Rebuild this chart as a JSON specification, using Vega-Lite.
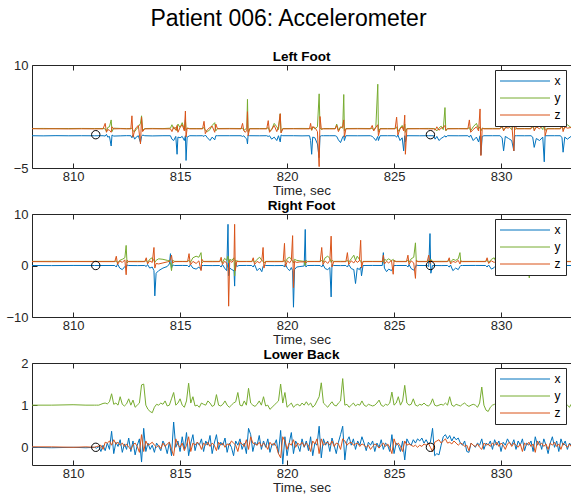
{
  "$schema": "https://vega.github.io/schema/vega-lite/v6.json",
  "padding": {"left": 5, "top": 7, "right": 0, "bottom": 0},
  "title": {"text": "Patient 006: Accelerometer", "fontSize": 23, "fontWeight": "normal", "color": "#000000", "anchor": "middle", "offset": 19},
  "bounds": "flush",
  "spacing": 46,
  "resolve": {"scale": {"color": "independent", "y": "independent"}, "legend": {"color": "independent"}},
  "config": {
    "font": "Liberation Sans",
    "view": {"stroke": null},
    "axis": {"domainColor": "#262626", "tickColor": "#262626", "labelColor": "#262626", "titleColor": "#262626", "labelFontSize": 13, "titleFontSize": 13.5, "titleFontWeight": "normal", "grid": false, "tickSize": -5, "domainWidth": 1, "tickWidth": 1, "titlePadding": 0},
    "axisX": {"labelPadding": 7},
    "axisY": {"labelPadding": 9},
    "title": {"fontSize": 13.5, "fontWeight": "bold", "color": "#000000", "offset": -4},
    "legend": {"orient": "top-right", "offset": 5, "fillColor": "#ffffff", "strokeColor": "#262626", "strokeWidth": 1, "padding": 5, "symbolType": "M-5,0H5", "symbolSize": 100, "symbolStrokeWidth": 1, "symbolOffset": 19, "labelOffset": 23.5, "labelFontSize": 12, "labelColor": "#000000", "rowPadding": 5, "title": null}
  },
  "datasets": {
    "left": [
      {"t": 808.08, "x": -0.30, "y": 0.75, "z": 0.72},
      {"t": 808.6, "x": -0.32, "y": 0.76, "z": 0.70},
      {"t": 809.2, "x": -0.29, "y": 0.74, "z": 0.71},
      {"t": 809.8, "x": -0.31, "y": 0.75, "z": 0.69},
      {"t": 810.4, "x": -0.30, "y": 0.76, "z": 0.71},
      {"t": 811.0, "x": -0.31, "y": 0.75, "z": 0.70},
      {"t": 811.40, "x": -0.30, "y": 0.75, "z": 0.70},
      {"t": 811.50, "x": -0.35, "y": 0.70, "z": 1.5},
      {"t": 811.56, "x": -0.10, "y": 0.30, "z": 0.2},
      {"t": 811.62, "x": -0.50, "y": 0.90, "z": 0.6},
      {"t": 811.70, "x": -0.40, "y": 1.00, "z": 0.5},
      {"t": 811.78, "x": -1.80, "y": 2.00, "z": 0.2},
      {"t": 811.82, "x": -0.20, "y": 0.30, "z": 1.0},
      {"t": 811.90, "x": -0.35, "y": 0.80, "z": 0.7},
      {"t": 812.2, "x": -0.32, "y": 0.76, "z": 0.72},
      {"t": 812.5, "x": -0.29, "y": 0.74, "z": 0.70},
      {"t": 812.70, "x": -0.30, "y": 0.75, "z": 0.70},
      {"t": 812.75, "x": -0.60, "y": 0.80, "z": 2.6},
      {"t": 812.80, "x": -0.20, "y": 0.40, "z": -0.5},
      {"t": 812.88, "x": -0.80, "y": 0.30, "z": 0.5},
      {"t": 812.95, "x": -0.50, "y": 0.60, "z": 0.9},
      {"t": 813.05, "x": -0.30, "y": 1.00, "z": 1.2},
      {"t": 813.15, "x": -1.30, "y": 1.50, "z": -1.5},
      {"t": 813.20, "x": -0.40, "y": 2.60, "z": 2.4},
      {"t": 813.25, "x": -0.20, "y": 0.50, "z": 0.3},
      {"t": 813.35, "x": -0.30, "y": 0.75, "z": 0.70},
      {"t": 813.7, "x": -0.33, "y": 0.76, "z": 0.71},
      {"t": 814.2, "x": -0.30, "y": 0.74, "z": 0.70},
      {"t": 814.55, "x": -0.30, "y": 0.80, "z": 0.70},
      {"t": 814.62, "x": -0.80, "y": 1.30, "z": 0.3},
      {"t": 814.70, "x": -1.00, "y": 0.70, "z": 1.0},
      {"t": 814.80, "x": -0.40, "y": 0.90, "z": 0.5},
      {"t": 814.86, "x": -3.00, "y": 0.40, "z": 1.2},
      {"t": 814.90, "x": -0.50, "y": 1.40, "z": 0.2},
      {"t": 815.00, "x": -0.60, "y": 0.90, "z": 0.9},
      {"t": 815.10, "x": -0.40, "y": 1.60, "z": 1.3},
      {"t": 815.20, "x": -1.00, "y": 0.60, "z": 0.4},
      {"t": 815.25, "x": -0.30, "y": 2.00, "z": 3.3},
      {"t": 815.28, "x": -3.90, "y": 0.50, "z": -0.5},
      {"t": 815.33, "x": -0.50, "y": 0.80, "z": 0.8},
      {"t": 815.45, "x": -0.30, "y": 0.75, "z": 0.70},
      {"t": 815.75, "x": -0.31, "y": 0.75, "z": 0.70},
      {"t": 816.05, "x": -0.30, "y": 0.75, "z": 0.70},
      {"t": 816.12, "x": -0.40, "y": 0.90, "z": 1.8},
      {"t": 816.18, "x": -0.20, "y": 0.50, "z": 0.0},
      {"t": 816.28, "x": -0.60, "y": 0.30, "z": 0.6},
      {"t": 816.40, "x": -1.00, "y": 0.60, "z": 0.9},
      {"t": 816.50, "x": -0.50, "y": 1.20, "z": 1.1},
      {"t": 816.62, "x": -0.90, "y": 1.60, "z": 0.2},
      {"t": 816.67, "x": -0.30, "y": 0.40, "z": 1.4},
      {"t": 816.75, "x": -0.30, "y": 0.75, "z": 0.70},
      {"t": 817.3, "x": -0.30, "y": 0.76, "z": 0.71},
      {"t": 817.85, "x": -0.30, "y": 0.75, "z": 0.70},
      {"t": 817.92, "x": -0.40, "y": 0.80, "z": 1.5},
      {"t": 817.98, "x": -0.30, "y": 0.50, "z": 0.4},
      {"t": 818.05, "x": -0.60, "y": 0.60, "z": 0.2},
      {"t": 818.12, "x": -0.80, "y": 0.90, "z": 0.5},
      {"t": 818.15, "x": -1.50, "y": 5.00, "z": 3.2},
      {"t": 818.18, "x": -0.20, "y": 0.20, "z": -0.3},
      {"t": 818.25, "x": -0.30, "y": 0.75, "z": 0.70},
      {"t": 818.7, "x": -0.31, "y": 0.75, "z": 0.70},
      {"t": 819.05, "x": -0.30, "y": 0.75, "z": 0.70},
      {"t": 819.12, "x": -0.40, "y": 0.90, "z": 1.9},
      {"t": 819.18, "x": -0.30, "y": 0.40, "z": 0.2},
      {"t": 819.28, "x": -0.80, "y": 0.60, "z": 0.6},
      {"t": 819.40, "x": -0.50, "y": 1.50, "z": 1.2},
      {"t": 819.52, "x": -1.00, "y": 1.00, "z": 0.3},
      {"t": 819.60, "x": -0.30, "y": 0.60, "z": 1.0},
      {"t": 819.68, "x": -1.20, "y": 2.90, "z": 2.9},
      {"t": 819.72, "x": -0.20, "y": 0.20, "z": 0.1},
      {"t": 819.80, "x": -0.30, "y": 0.75, "z": 0.70},
      {"t": 820.3, "x": -0.30, "y": 0.75, "z": 0.71},
      {"t": 820.7, "x": -0.32, "y": 0.76, "z": 0.70},
      {"t": 821.05, "x": -0.30, "y": 0.75, "z": 0.70},
      {"t": 821.10, "x": -1.00, "y": 0.80, "z": 1.5},
      {"t": 821.15, "x": -3.00, "y": 0.50, "z": 0.5},
      {"t": 821.20, "x": -0.50, "y": 1.00, "z": 1.0},
      {"t": 821.30, "x": -0.60, "y": 0.70, "z": 0.9},
      {"t": 821.42, "x": -1.50, "y": 1.00, "z": 0.3},
      {"t": 821.50, "x": -3.50, "y": 5.80, "z": -4.8},
      {"t": 821.54, "x": -0.40, "y": 0.90, "z": 2.5},
      {"t": 821.60, "x": -0.30, "y": 0.60, "z": 0.7},
      {"t": 821.70, "x": -0.30, "y": 0.75, "z": 0.70},
      {"t": 822.0, "x": -0.30, "y": 0.75, "z": 0.70},
      {"t": 822.25, "x": -0.30, "y": 0.75, "z": 0.70},
      {"t": 822.32, "x": -0.40, "y": 1.40, "z": 1.2},
      {"t": 822.40, "x": -0.90, "y": 0.50, "z": 0.3},
      {"t": 822.50, "x": -1.30, "y": 1.00, "z": 0.9},
      {"t": 822.60, "x": -0.50, "y": 0.80, "z": 1.0},
      {"t": 822.65, "x": -0.30, "y": 5.70, "z": 2.0},
      {"t": 822.68, "x": -1.00, "y": 0.40, "z": -0.5},
      {"t": 822.75, "x": -0.30, "y": 0.75, "z": 0.70},
      {"t": 823.3, "x": -0.31, "y": 0.76, "z": 0.71},
      {"t": 823.90, "x": -0.30, "y": 0.75, "z": 0.70},
      {"t": 823.98, "x": -0.40, "y": 0.80, "z": 1.2},
      {"t": 824.05, "x": -0.60, "y": 0.50, "z": 0.4},
      {"t": 824.15, "x": -1.00, "y": 1.00, "z": 0.9},
      {"t": 824.24, "x": -0.40, "y": 7.20, "z": 1.3},
      {"t": 824.27, "x": -1.00, "y": 0.30, "z": -0.3},
      {"t": 824.35, "x": -0.30, "y": 0.75, "z": 0.70},
      {"t": 824.7, "x": -0.30, "y": 0.75, "z": 0.70},
      {"t": 825.05, "x": -0.30, "y": 0.75, "z": 0.70},
      {"t": 825.12, "x": -0.50, "y": 1.00, "z": 2.4},
      {"t": 825.18, "x": -0.20, "y": 0.30, "z": -0.2},
      {"t": 825.28, "x": -1.00, "y": 0.80, "z": 0.7},
      {"t": 825.38, "x": -0.60, "y": 1.20, "z": 1.0},
      {"t": 825.45, "x": -2.50, "y": 0.60, "z": 0.4},
      {"t": 825.50, "x": -0.30, "y": 1.40, "z": 2.7},
      {"t": 825.53, "x": -1.20, "y": 0.20, "z": -3.0},
      {"t": 825.60, "x": -0.30, "y": 0.75, "z": 0.70},
      {"t": 826.2, "x": -0.31, "y": 0.75, "z": 0.71},
      {"t": 826.6, "x": -0.30, "y": 0.76, "z": 0.70},
      {"t": 826.85, "x": -0.30, "y": 0.75, "z": 0.70},
      {"t": 826.92, "x": -0.80, "y": 0.70, "z": 0.5},
      {"t": 827.00, "x": -0.40, "y": 0.40, "z": 1.0},
      {"t": 827.10, "x": -1.00, "y": 0.80, "z": 0.5},
      {"t": 827.20, "x": -0.70, "y": 1.10, "z": 0.8},
      {"t": 827.30, "x": -0.50, "y": 0.60, "z": 0.9},
      {"t": 827.38, "x": -0.30, "y": 3.80, "z": 1.2},
      {"t": 827.42, "x": -0.50, "y": 0.40, "z": 0.5},
      {"t": 827.50, "x": -0.30, "y": 0.75, "z": 0.70},
      {"t": 828.0, "x": -0.31, "y": 0.75, "z": 0.71},
      {"t": 828.45, "x": -0.30, "y": 0.75, "z": 0.70},
      {"t": 828.52, "x": -0.50, "y": 0.90, "z": 2.0},
      {"t": 828.58, "x": -0.20, "y": 0.40, "z": 0.2},
      {"t": 828.70, "x": -1.00, "y": 1.00, "z": 0.6},
      {"t": 828.85, "x": -0.50, "y": 1.50, "z": 1.0},
      {"t": 828.95, "x": -1.20, "y": 0.70, "z": 0.4},
      {"t": 829.02, "x": -0.30, "y": 1.00, "z": 3.6},
      {"t": 829.06, "x": -3.10, "y": 0.40, "z": -3.2},
      {"t": 829.12, "x": -0.40, "y": 0.80, "z": 0.8},
      {"t": 829.20, "x": -0.30, "y": 0.75, "z": 0.70},
      {"t": 829.6, "x": -0.30, "y": 0.76, "z": 0.70},
      {"t": 829.95, "x": -0.30, "y": 0.75, "z": 0.70},
      {"t": 830.05, "x": -0.60, "y": 1.00, "z": 1.2},
      {"t": 830.12, "x": -2.50, "y": 0.50, "z": 0.4},
      {"t": 830.20, "x": -0.40, "y": 0.80, "z": 0.9},
      {"t": 830.35, "x": -0.70, "y": 1.10, "z": 0.8},
      {"t": 830.50, "x": -1.00, "y": 0.60, "z": 1.5},
      {"t": 830.60, "x": -2.50, "y": 1.30, "z": -2.5},
      {"t": 830.64, "x": -0.30, "y": 0.60, "z": 1.5},
      {"t": 830.72, "x": -0.30, "y": 0.75, "z": 0.70},
      {"t": 831.1, "x": -0.31, "y": 0.75, "z": 0.71},
      {"t": 831.40, "x": -0.30, "y": 0.75, "z": 0.70},
      {"t": 831.48, "x": -0.50, "y": 1.00, "z": 1.8},
      {"t": 831.55, "x": -2.00, "y": 0.60, "z": 0.4},
      {"t": 831.65, "x": -0.70, "y": 0.90, "z": 1.0},
      {"t": 831.80, "x": -1.00, "y": 1.20, "z": 0.7},
      {"t": 831.95, "x": -0.50, "y": 0.60, "z": 1.2},
      {"t": 832.02, "x": -4.10, "y": 1.40, "z": 2.0},
      {"t": 832.06, "x": -0.30, "y": 0.50, "z": -0.3},
      {"t": 832.15, "x": -0.30, "y": 0.75, "z": 0.70},
      {"t": 832.5, "x": -0.30, "y": 0.75, "z": 0.70},
      {"t": 832.78, "x": -0.30, "y": 0.75, "z": 0.70},
      {"t": 832.85, "x": -0.60, "y": 1.10, "z": 1.5},
      {"t": 832.90, "x": -2.70, "y": 0.60, "z": 0.3},
      {"t": 832.98, "x": -0.50, "y": 0.90, "z": 1.0},
      {"t": 833.10, "x": -0.80, "y": 1.30, "z": 0.8},
      {"t": 833.27, "x": -0.40, "y": 0.90, "z": 0.9}
    ],
    "right": [
      {"t": 808.08, "x": 0.00, "y": 0.80, "z": 0.75},
      {"t": 809.0, "x": -0.02, "y": 0.81, "z": 0.74},
      {"t": 810.0, "x": 0.01, "y": 0.79, "z": 0.76},
      {"t": 811.0, "x": 0.00, "y": 0.80, "z": 0.75},
      {"t": 811.95, "x": 0.00, "y": 0.80, "z": 0.75},
      {"t": 812.02, "x": -0.3, "y": 0.9, "z": 1.8},
      {"t": 812.08, "x": 0.3, "y": 0.5, "z": 0.2},
      {"t": 812.18, "x": -0.5, "y": 1.0, "z": 0.9},
      {"t": 812.30, "x": -0.8, "y": 1.2, "z": 0.6},
      {"t": 812.42, "x": -0.2, "y": 1.5, "z": 1.1},
      {"t": 812.48, "x": -0.5, "y": 3.9, "z": -1.8},
      {"t": 812.52, "x": 0.1, "y": 0.5, "z": 1.0},
      {"t": 812.60, "x": 0.00, "y": 0.80, "z": 0.75},
      {"t": 813.0, "x": -0.02, "y": 0.81, "z": 0.74},
      {"t": 813.35, "x": 0.00, "y": 0.80, "z": 0.75},
      {"t": 813.42, "x": -0.2, "y": 1.0, "z": 1.5},
      {"t": 813.48, "x": 0.2, "y": 0.6, "z": 0.3},
      {"t": 813.58, "x": -0.5, "y": 1.2, "z": 0.9},
      {"t": 813.70, "x": -0.3, "y": 1.5, "z": 0.6},
      {"t": 813.78, "x": -1.0, "y": 0.9, "z": 3.5},
      {"t": 813.82, "x": -5.9, "y": 0.6, "z": -0.5},
      {"t": 813.88, "x": -1.5, "y": 1.0, "z": 0.4},
      {"t": 814.00, "x": -1.0, "y": 1.3, "z": 0.3},
      {"t": 814.20, "x": -0.5, "y": 1.2, "z": 0.5},
      {"t": 814.40, "x": -0.2, "y": 1.0, "z": 0.7},
      {"t": 814.50, "x": 0.3, "y": 0.9, "z": 0.8},
      {"t": 814.55, "x": 2.3, "y": 0.5, "z": 1.2},
      {"t": 814.60, "x": -0.5, "y": -1.0, "z": 2.0},
      {"t": 814.65, "x": 0.1, "y": 1.0, "z": 0.5},
      {"t": 814.75, "x": 0.00, "y": 0.80, "z": 0.75},
      {"t": 815.1, "x": 0.01, "y": 0.80, "z": 0.76},
      {"t": 815.35, "x": 0.00, "y": 0.80, "z": 0.75},
      {"t": 815.42, "x": -0.3, "y": 1.0, "z": 2.3},
      {"t": 815.48, "x": 0.2, "y": 0.6, "z": 0.1},
      {"t": 815.60, "x": -0.5, "y": 1.5, "z": 0.8},
      {"t": 815.75, "x": -0.7, "y": 1.8, "z": 0.4},
      {"t": 815.88, "x": -0.3, "y": 1.6, "z": 0.9},
      {"t": 815.98, "x": -0.8, "y": 2.5, "z": -1.0},
      {"t": 816.02, "x": 0.0, "y": 0.5, "z": 1.2},
      {"t": 816.10, "x": 0.00, "y": 0.80, "z": 0.75},
      {"t": 816.5, "x": -0.02, "y": 0.81, "z": 0.74},
      {"t": 816.85, "x": 0.00, "y": 0.80, "z": 0.75},
      {"t": 816.92, "x": -0.3, "y": 1.0, "z": 1.6},
      {"t": 816.98, "x": 0.2, "y": 0.5, "z": 0.2},
      {"t": 817.08, "x": -0.5, "y": 1.4, "z": 0.8},
      {"t": 817.18, "x": -1.0, "y": 1.0, "z": 0.5},
      {"t": 817.24, "x": 8.0, "y": 1.8, "z": -0.5},
      {"t": 817.27, "x": -2.0, "y": 0.5, "z": -7.9},
      {"t": 817.32, "x": -0.5, "y": 1.2, "z": 1.0},
      {"t": 817.42, "x": -0.8, "y": 1.0, "z": 0.6},
      {"t": 817.52, "x": -1.0, "y": 1.5, "z": 1.2},
      {"t": 817.55, "x": -4.0, "y": -2.0, "z": 8.0},
      {"t": 817.58, "x": 0.5, "y": 1.0, "z": -1.0},
      {"t": 817.65, "x": -0.2, "y": 0.9, "z": 0.8},
      {"t": 817.75, "x": 0.00, "y": 0.80, "z": 0.75},
      {"t": 818.1, "x": 0.01, "y": 0.80, "z": 0.76},
      {"t": 818.35, "x": 0.00, "y": 0.80, "z": 0.75},
      {"t": 818.42, "x": -0.3, "y": 1.0, "z": 1.5},
      {"t": 818.48, "x": 0.2, "y": 0.6, "z": 0.2},
      {"t": 818.60, "x": -1.0, "y": 1.2, "z": 0.8},
      {"t": 818.72, "x": -0.5, "y": 1.6, "z": 0.5},
      {"t": 818.82, "x": -1.2, "y": 1.0, "z": 1.0},
      {"t": 818.88, "x": -0.2, "y": 0.8, "z": 3.5},
      {"t": 818.92, "x": 0.0, "y": 0.5, "z": -0.5},
      {"t": 819.00, "x": 0.00, "y": 0.80, "z": 0.75},
      {"t": 819.4, "x": -0.02, "y": 0.81, "z": 0.74},
      {"t": 819.82, "x": 0.00, "y": 0.80, "z": 0.75},
      {"t": 819.88, "x": -0.3, "y": 1.0, "z": 4.3},
      {"t": 819.92, "x": 0.3, "y": 0.6, "z": -0.2},
      {"t": 820.02, "x": -0.6, "y": 1.4, "z": 0.9},
      {"t": 820.12, "x": -1.0, "y": 1.6, "z": 0.5},
      {"t": 820.20, "x": -0.4, "y": 1.2, "z": 1.0},
      {"t": 820.26, "x": -1.0, "y": 0.8, "z": 5.8},
      {"t": 820.30, "x": -8.1, "y": 0.5, "z": -4.3},
      {"t": 820.35, "x": -0.8, "y": 1.2, "z": 0.8},
      {"t": 820.45, "x": -0.3, "y": 1.0, "z": 0.6},
      {"t": 820.60, "x": -0.2, "y": 0.9, "z": 0.7},
      {"t": 820.80, "x": -0.1, "y": 0.8, "z": 0.7},
      {"t": 820.85, "x": 7.0, "y": 0.0, "z": 0.9},
      {"t": 820.88, "x": -0.3, "y": 1.0, "z": 0.5},
      {"t": 820.95, "x": 0.00, "y": 0.80, "z": 0.75},
      {"t": 821.3, "x": 0.01, "y": 0.80, "z": 0.76},
      {"t": 821.55, "x": 0.00, "y": 0.80, "z": 0.75},
      {"t": 821.62, "x": -0.3, "y": 1.0, "z": 3.5},
      {"t": 821.68, "x": 0.2, "y": 0.6, "z": 0.2},
      {"t": 821.78, "x": -0.6, "y": 1.5, "z": 0.9},
      {"t": 821.90, "x": -0.8, "y": 1.8, "z": 0.4},
      {"t": 822.00, "x": -0.4, "y": 1.4, "z": 1.0},
      {"t": 822.06, "x": -6.1, "y": 0.6, "z": 5.7},
      {"t": 822.10, "x": 0.2, "y": 1.0, "z": -0.3},
      {"t": 822.18, "x": 0.00, "y": 0.80, "z": 0.75},
      {"t": 822.5, "x": -0.02, "y": 0.81, "z": 0.74},
      {"t": 822.75, "x": 0.00, "y": 0.80, "z": 0.75},
      {"t": 822.82, "x": -0.3, "y": 1.0, "z": 2.5},
      {"t": 822.88, "x": 0.2, "y": 0.6, "z": 0.2},
      {"t": 823.00, "x": -0.6, "y": 1.3, "z": 0.9},
      {"t": 823.12, "x": -0.8, "y": 2.0, "z": 0.5},
      {"t": 823.20, "x": -3.5, "y": 1.0, "z": 1.0},
      {"t": 823.28, "x": -0.5, "y": 1.8, "z": 0.6},
      {"t": 823.38, "x": -0.8, "y": 1.2, "z": 0.9},
      {"t": 823.44, "x": -0.3, "y": 0.8, "z": 4.9},
      {"t": 823.48, "x": -2.0, "y": 0.5, "z": -0.5},
      {"t": 823.55, "x": 0.00, "y": 0.80, "z": 0.75},
      {"t": 824.0, "x": 0.01, "y": 0.80, "z": 0.76},
      {"t": 824.45, "x": 0.00, "y": 0.80, "z": 0.75},
      {"t": 824.50, "x": 2.5, "y": 0.6, "z": 2.0},
      {"t": 824.55, "x": -0.5, "y": 1.2, "z": 0.3},
      {"t": 824.65, "x": -1.2, "y": 1.0, "z": 0.8},
      {"t": 824.75, "x": -0.7, "y": 1.3, "z": 0.5},
      {"t": 824.88, "x": -1.0, "y": 0.9, "z": 1.0},
      {"t": 824.96, "x": -0.4, "y": 1.2, "z": -1.7},
      {"t": 825.00, "x": 0.0, "y": 0.8, "z": 1.0},
      {"t": 825.10, "x": 0.00, "y": 0.80, "z": 0.75},
      {"t": 825.58, "x": 0.00, "y": 0.80, "z": 0.75},
      {"t": 825.65, "x": -0.3, "y": 1.0, "z": 2.0},
      {"t": 825.70, "x": 0.2, "y": 0.6, "z": 0.2},
      {"t": 825.80, "x": -0.6, "y": 1.3, "z": 0.9},
      {"t": 825.92, "x": -0.9, "y": 1.6, "z": 0.5},
      {"t": 826.00, "x": -0.4, "y": 4.4, "z": -2.5},
      {"t": 826.04, "x": 0.1, "y": 0.8, "z": 1.0},
      {"t": 826.12, "x": 0.00, "y": 0.80, "z": 0.75},
      {"t": 826.55, "x": 0.00, "y": 0.80, "z": 0.75},
      {"t": 826.62, "x": -0.2, "y": 1.0, "z": 2.0},
      {"t": 826.68, "x": 6.2, "y": 0.6, "z": 0.4},
      {"t": 826.72, "x": -1.5, "y": 1.2, "z": 1.0},
      {"t": 826.80, "x": 0.00, "y": 0.80, "z": 0.75},
      {"t": 827.2, "x": -0.02, "y": 0.81, "z": 0.74},
      {"t": 827.50, "x": 0.00, "y": 0.80, "z": 0.75},
      {"t": 827.58, "x": -0.3, "y": 1.0, "z": 1.5},
      {"t": 827.64, "x": 0.1, "y": 0.6, "z": 0.3},
      {"t": 827.75, "x": -1.0, "y": 1.2, "z": 0.8},
      {"t": 827.88, "x": -0.5, "y": 1.0, "z": 0.6},
      {"t": 828.00, "x": -0.8, "y": 1.3, "z": 1.0},
      {"t": 828.08, "x": -0.2, "y": 2.5, "z": 0.3},
      {"t": 828.12, "x": 0.0, "y": 0.7, "z": 0.9},
      {"t": 828.20, "x": 0.00, "y": 0.80, "z": 0.75},
      {"t": 828.8, "x": 0.01, "y": 0.80, "z": 0.76},
      {"t": 829.28, "x": 0.00, "y": 0.80, "z": 0.75},
      {"t": 829.35, "x": -0.3, "y": 1.0, "z": 1.5},
      {"t": 829.42, "x": 0.1, "y": 0.6, "z": 0.4},
      {"t": 829.55, "x": -0.7, "y": 1.2, "z": 0.9},
      {"t": 829.68, "x": -0.4, "y": 1.5, "z": 0.6},
      {"t": 829.75, "x": -0.1, "y": 0.8, "z": 0.8},
      {"t": 829.85, "x": 0.00, "y": 0.80, "z": 0.75},
      {"t": 830.5, "x": -0.02, "y": 0.81, "z": 0.74},
      {"t": 831.20, "x": 0.00, "y": 0.80, "z": 0.75},
      {"t": 831.27, "x": -0.3, "y": 1.2, "z": 1.0},
      {"t": 831.32, "x": 0.0, "y": -2.4, "z": 0.5},
      {"t": 831.36, "x": -0.2, "y": 0.9, "z": 0.8},
      {"t": 831.45, "x": 0.00, "y": 0.80, "z": 0.75},
      {"t": 832.1, "x": 0.01, "y": 0.80, "z": 0.76},
      {"t": 832.70, "x": 0.00, "y": 0.80, "z": 0.75},
      {"t": 832.78, "x": -1.0, "y": 1.1, "z": 1.0},
      {"t": 832.84, "x": -0.2, "y": 0.7, "z": 0.6},
      {"t": 832.92, "x": 0.00, "y": 0.80, "z": 0.75},
      {"t": 833.27, "x": 0.00, "y": 0.80, "z": 0.75}
    ],
    "back": [
      {"t": 808.08, "x": 0.00, "y": 1.00, "z": 0.01},
      {"t": 809.0, "x": -0.01, "y": 1.00, "z": 0.01},
      {"t": 810.0, "x": 0.00, "y": 1.01, "z": 0.00},
      {"t": 810.6, "x": -0.01, "y": 1.00, "z": 0.01},
      {"t": 811.0, "x": 0.00, "y": 1.00, "z": 0.00},
      {"t": 811.1, "x": -0.02, "y": 1.00, "z": 0.02},
      {"t": 811.2, "x": 0.02, "y": 1.00, "z": 0.03},
      {"t": 811.3, "x": -0.10, "y": 1.02, "z": 0.05},
      {"t": 811.4, "x": 0.05, "y": 1.04, "z": -0.05},
      {"t": 811.5, "x": -0.08, "y": 1.05, "z": 0.12},
      {"t": 811.6, "x": 0.10, "y": 1.03, "z": 0.10},
      {"t": 811.7, "x": -0.05, "y": 1.08, "z": 0.15},
      {"t": 811.8, "x": 0.38, "y": 1.27, "z": 0.05},
      {"t": 811.9, "x": -0.15, "y": 1.02, "z": 0.18},
      {"t": 812.0, "x": 0.12, "y": 1.05, "z": 0.08},
      {"t": 812.1, "x": 0.02, "y": 1.00, "z": 0.12},
      {"t": 812.2, "x": 0.18, "y": 1.20, "z": 0.05},
      {"t": 812.3, "x": -0.12, "y": 1.02, "z": 0.10},
      {"t": 812.4, "x": 0.08, "y": 0.98, "z": 0.02},
      {"t": 812.5, "x": -0.05, "y": 1.03, "z": 0.08},
      {"t": 812.6, "x": 0.22, "y": 1.15, "z": 0.00},
      {"t": 812.7, "x": -0.10, "y": 1.00, "z": -0.05},
      {"t": 812.8, "x": 0.15, "y": 1.12, "z": 0.06},
      {"t": 812.9, "x": -0.18, "y": 0.95, "z": 0.10},
      {"t": 813.0, "x": 0.05, "y": 1.00, "z": 0.02},
      {"t": 813.1, "x": 0.20, "y": 1.05, "z": -0.12},
      {"t": 813.2, "x": -0.35, "y": 1.48, "z": 0.30},
      {"t": 813.3, "x": 0.45, "y": 1.50, "z": -0.10},
      {"t": 813.4, "x": -0.10, "y": 1.00, "z": 0.15},
      {"t": 813.5, "x": 0.10, "y": 0.90, "z": 0.05},
      {"t": 813.6, "x": -0.05, "y": 0.85, "z": 0.08},
      {"t": 813.7, "x": 0.05, "y": 0.82, "z": 0.12},
      {"t": 813.8, "x": -0.12, "y": 0.95, "z": 0.05},
      {"t": 813.9, "x": 0.10, "y": 1.02, "z": 0.00},
      {"t": 814.0, "x": 0.02, "y": 1.00, "z": 0.05},
      {"t": 814.1, "x": -0.08, "y": 1.05, "z": -0.03},
      {"t": 814.2, "x": 0.15, "y": 1.02, "z": 0.10},
      {"t": 814.3, "x": 0.05, "y": 1.10, "z": 0.02},
      {"t": 814.4, "x": -0.15, "y": 0.98, "z": 0.08},
      {"t": 814.5, "x": 0.12, "y": 1.00, "z": 0.12},
      {"t": 814.6, "x": -0.20, "y": 1.15, "z": -0.05},
      {"t": 814.7, "x": 0.60, "y": 1.30, "z": -0.20},
      {"t": 814.8, "x": 0.00, "y": 1.00, "z": 0.20},
      {"t": 814.9, "x": 0.15, "y": 1.05, "z": 0.05},
      {"t": 815.0, "x": -0.10, "y": 1.15, "z": 0.00},
      {"t": 815.1, "x": 0.25, "y": 1.00, "z": 0.10},
      {"t": 815.2, "x": -0.05, "y": 0.95, "z": -0.08},
      {"t": 815.3, "x": 0.35, "y": 1.10, "z": 0.05},
      {"t": 815.4, "x": -0.20, "y": 1.52, "z": 0.25},
      {"t": 815.5, "x": 0.10, "y": 1.05, "z": -0.10},
      {"t": 815.6, "x": 0.30, "y": 1.20, "z": 0.10},
      {"t": 815.7, "x": -0.08, "y": 0.98, "z": 0.05},
      {"t": 815.8, "x": 0.12, "y": 1.00, "z": 0.12},
      {"t": 815.9, "x": 0.05, "y": 0.95, "z": 0.08},
      {"t": 816.0, "x": 0.20, "y": 1.05, "z": -0.05},
      {"t": 816.1, "x": -0.10, "y": 1.02, "z": 0.10},
      {"t": 816.2, "x": 0.15, "y": 1.00, "z": 0.05},
      {"t": 816.3, "x": 0.05, "y": 1.10, "z": 0.12},
      {"t": 816.4, "x": 0.28, "y": 1.05, "z": 0.02},
      {"t": 816.5, "x": -0.15, "y": 0.97, "z": 0.10},
      {"t": 816.6, "x": 0.10, "y": 1.00, "z": 0.05},
      {"t": 816.7, "x": 0.30, "y": 1.25, "z": -0.08},
      {"t": 816.8, "x": -0.05, "y": 1.00, "z": 0.12},
      {"t": 816.9, "x": 0.12, "y": 0.98, "z": 0.05},
      {"t": 817.0, "x": 0.05, "y": 1.02, "z": 0.10},
      {"t": 817.1, "x": 0.22, "y": 1.10, "z": 0.00},
      {"t": 817.2, "x": -0.12, "y": 1.00, "z": 0.08},
      {"t": 817.3, "x": 0.10, "y": 0.95, "z": 0.05},
      {"t": 817.4, "x": 0.00, "y": 1.00, "z": 0.15},
      {"t": 817.5, "x": -0.20, "y": 1.05, "z": 0.10},
      {"t": 817.6, "x": 0.15, "y": 1.08, "z": 0.05},
      {"t": 817.7, "x": 0.05, "y": 1.30, "z": -0.10},
      {"t": 817.8, "x": 0.20, "y": 1.00, "z": 0.12},
      {"t": 817.9, "x": -0.05, "y": 0.98, "z": 0.08},
      {"t": 818.0, "x": 0.10, "y": 1.10, "z": 0.02},
      {"t": 818.1, "x": -0.15, "y": 1.00, "z": 0.18},
      {"t": 818.2, "x": 0.45, "y": 1.40, "z": -0.05},
      {"t": 818.3, "x": 0.30, "y": 1.05, "z": 0.25},
      {"t": 818.4, "x": -0.10, "y": 1.00, "z": 0.10},
      {"t": 818.5, "x": 0.12, "y": 0.97, "z": 0.08},
      {"t": 818.6, "x": 0.05, "y": 1.02, "z": 0.05},
      {"t": 818.7, "x": 0.28, "y": 1.10, "z": 0.12},
      {"t": 818.8, "x": -0.05, "y": 1.00, "z": 0.02},
      {"t": 818.9, "x": 0.15, "y": 1.20, "z": 0.10},
      {"t": 819.0, "x": 0.00, "y": 0.98, "z": 0.05},
      {"t": 819.1, "x": 0.20, "y": 1.00, "z": -0.05},
      {"t": 819.2, "x": -0.12, "y": 0.90, "z": 0.12},
      {"t": 819.3, "x": 0.08, "y": 0.95, "z": 0.05},
      {"t": 819.4, "x": 0.05, "y": 1.00, "z": 0.10},
      {"t": 819.5, "x": 0.18, "y": 1.05, "z": 0.02},
      {"t": 819.6, "x": -0.15, "y": 1.10, "z": -0.15},
      {"t": 819.7, "x": 0.40, "y": 1.50, "z": -0.25},
      {"t": 819.8, "x": -0.40, "y": 1.05, "z": 0.25},
      {"t": 819.9, "x": 0.25, "y": 1.30, "z": 0.15},
      {"t": 820.0, "x": -0.20, "y": 0.95, "z": -0.05},
      {"t": 820.1, "x": 0.10, "y": 1.00, "z": 0.10},
      {"t": 820.2, "x": 0.35, "y": 1.05, "z": 0.05},
      {"t": 820.3, "x": -0.15, "y": 0.95, "z": 0.18},
      {"t": 820.4, "x": 0.15, "y": 1.00, "z": 0.00},
      {"t": 820.5, "x": 0.05, "y": 1.02, "z": 0.10},
      {"t": 820.6, "x": -0.10, "y": 0.98, "z": 0.05},
      {"t": 820.7, "x": 0.20, "y": 1.05, "z": 0.12},
      {"t": 820.8, "x": 0.00, "y": 1.00, "z": 0.02},
      {"t": 820.9, "x": 0.15, "y": 1.08, "z": 0.10},
      {"t": 821.0, "x": -0.08, "y": 1.00, "z": 0.05},
      {"t": 821.1, "x": 0.25, "y": 1.05, "z": -0.10},
      {"t": 821.2, "x": -0.20, "y": 0.95, "z": 0.15},
      {"t": 821.3, "x": 0.10, "y": 1.00, "z": 0.08},
      {"t": 821.4, "x": 0.05, "y": 1.10, "z": 0.20},
      {"t": 821.5, "x": 0.50, "y": 1.20, "z": -0.15},
      {"t": 821.6, "x": -0.25, "y": 1.53, "z": 0.20},
      {"t": 821.7, "x": 0.20, "y": 1.05, "z": 0.05},
      {"t": 821.8, "x": 0.05, "y": 1.00, "z": 0.10},
      {"t": 821.9, "x": 0.15, "y": 0.95, "z": 0.12},
      {"t": 822.0, "x": -0.10, "y": 1.02, "z": 0.05},
      {"t": 822.1, "x": 0.22, "y": 1.08, "z": 0.15},
      {"t": 822.2, "x": 0.05, "y": 1.00, "z": 0.02},
      {"t": 822.3, "x": -0.15, "y": 0.98, "z": 0.10},
      {"t": 822.4, "x": 0.12, "y": 1.05, "z": 0.08},
      {"t": 822.5, "x": 0.30, "y": 1.10, "z": -0.05},
      {"t": 822.6, "x": 0.50, "y": 1.63, "z": 0.20},
      {"t": 822.7, "x": -0.30, "y": 1.00, "z": 0.15},
      {"t": 822.8, "x": 0.15, "y": 1.02, "z": 0.05},
      {"t": 822.9, "x": 0.25, "y": 0.95, "z": 0.10},
      {"t": 823.0, "x": 0.05, "y": 1.00, "z": 0.12},
      {"t": 823.1, "x": 0.20, "y": 1.05, "z": 0.05},
      {"t": 823.2, "x": -0.05, "y": 0.98, "z": 0.08},
      {"t": 823.3, "x": 0.15, "y": 1.02, "z": 0.10},
      {"t": 823.4, "x": 0.05, "y": 1.00, "z": 0.02},
      {"t": 823.5, "x": 0.25, "y": 1.10, "z": 0.08},
      {"t": 823.6, "x": 0.10, "y": 1.00, "z": 0.05},
      {"t": 823.7, "x": -0.08, "y": 0.97, "z": 0.00},
      {"t": 823.8, "x": 0.12, "y": 1.02, "z": 0.05},
      {"t": 823.9, "x": 0.05, "y": 1.00, "z": -0.05},
      {"t": 824.0, "x": 0.15, "y": 0.98, "z": 0.02},
      {"t": 824.1, "x": -0.10, "y": 1.00, "z": 0.08},
      {"t": 824.2, "x": 0.10, "y": 1.05, "z": 0.05},
      {"t": 824.3, "x": 0.00, "y": 1.12, "z": -0.02},
      {"t": 824.4, "x": 0.18, "y": 1.00, "z": 0.05},
      {"t": 824.5, "x": -0.05, "y": 0.97, "z": 0.10},
      {"t": 824.6, "x": 0.10, "y": 1.02, "z": 0.02},
      {"t": 824.7, "x": 0.05, "y": 1.00, "z": 0.08},
      {"t": 824.8, "x": -0.10, "y": 1.05, "z": 0.00},
      {"t": 824.9, "x": 0.30, "y": 1.31, "z": -0.15},
      {"t": 825.0, "x": -0.15, "y": 1.00, "z": 0.20},
      {"t": 825.1, "x": 0.10, "y": 1.05, "z": 0.05},
      {"t": 825.2, "x": 0.05, "y": 1.20, "z": 0.10},
      {"t": 825.3, "x": -0.10, "y": 1.00, "z": 0.02},
      {"t": 825.4, "x": 0.15, "y": 1.10, "z": -0.10},
      {"t": 825.5, "x": -0.30, "y": 1.47, "z": 0.15},
      {"t": 825.6, "x": 0.20, "y": 1.05, "z": 0.05},
      {"t": 825.7, "x": 0.10, "y": 1.00, "z": 0.08},
      {"t": 825.8, "x": 0.05, "y": 1.02, "z": 0.05},
      {"t": 825.9, "x": 0.18, "y": 1.15, "z": 0.02},
      {"t": 826.0, "x": 0.10, "y": 1.00, "z": 0.05},
      {"t": 826.1, "x": 0.20, "y": 0.98, "z": 0.00},
      {"t": 826.2, "x": 0.15, "y": 1.02, "z": 0.05},
      {"t": 826.3, "x": 0.22, "y": 1.00, "z": 0.02},
      {"t": 826.4, "x": 0.10, "y": 1.05, "z": 0.08},
      {"t": 826.5, "x": 0.18, "y": 1.00, "z": 0.05},
      {"t": 826.6, "x": 0.08, "y": 0.98, "z": 0.10},
      {"t": 826.7, "x": 0.12, "y": 1.02, "z": 0.00},
      {"t": 826.8, "x": 0.45, "y": 1.15, "z": -0.10},
      {"t": 826.9, "x": -0.20, "y": 1.00, "z": 0.12},
      {"t": 827.0, "x": -0.15, "y": 0.98, "z": 0.15},
      {"t": 827.1, "x": -0.18, "y": 1.00, "z": 0.18},
      {"t": 827.2, "x": 0.05, "y": 1.02, "z": 0.10},
      {"t": 827.3, "x": 0.25, "y": 1.00, "z": 0.15},
      {"t": 827.4, "x": 0.30, "y": 1.05, "z": 0.20},
      {"t": 827.5, "x": 0.20, "y": 1.00, "z": 0.10},
      {"t": 827.6, "x": 0.28, "y": 1.20, "z": 0.12},
      {"t": 827.7, "x": 0.15, "y": 1.00, "z": 0.08},
      {"t": 827.8, "x": 0.25, "y": 0.97, "z": 0.15},
      {"t": 827.9, "x": 0.18, "y": 1.02, "z": 0.10},
      {"t": 828.0, "x": 0.22, "y": 1.00, "z": 0.05},
      {"t": 828.1, "x": 0.10, "y": 0.98, "z": 0.10},
      {"t": 828.2, "x": 0.05, "y": 1.02, "z": 0.08},
      {"t": 828.3, "x": 0.15, "y": 1.05, "z": 0.02},
      {"t": 828.4, "x": -0.10, "y": 1.00, "z": 0.05},
      {"t": 828.5, "x": -0.12, "y": 0.97, "z": -0.08},
      {"t": 828.6, "x": 0.10, "y": 1.00, "z": 0.10},
      {"t": 828.7, "x": 0.05, "y": 1.02, "z": 0.05},
      {"t": 828.8, "x": 0.00, "y": 1.00, "z": 0.02},
      {"t": 828.9, "x": 0.10, "y": 0.95, "z": 0.08},
      {"t": 829.0, "x": 0.05, "y": 1.05, "z": 0.00},
      {"t": 829.1, "x": 0.20, "y": 1.43, "z": -0.05},
      {"t": 829.2, "x": -0.05, "y": 1.00, "z": 0.10},
      {"t": 829.3, "x": 0.10, "y": 0.88, "z": 0.05},
      {"t": 829.4, "x": 0.05, "y": 0.85, "z": 0.08},
      {"t": 829.5, "x": 0.15, "y": 0.95, "z": 0.02},
      {"t": 829.6, "x": -0.05, "y": 1.00, "z": 0.10},
      {"t": 829.7, "x": 0.18, "y": 1.02, "z": 0.05},
      {"t": 829.8, "x": 0.05, "y": 1.00, "z": 0.12},
      {"t": 829.9, "x": 0.15, "y": 1.05, "z": 0.02},
      {"t": 830.0, "x": -0.10, "y": 1.00, "z": 0.10},
      {"t": 830.1, "x": 0.12, "y": 0.98, "z": 0.05},
      {"t": 830.2, "x": 0.05, "y": 1.02, "z": -0.05},
      {"t": 830.3, "x": 0.20, "y": 1.00, "z": 0.08},
      {"t": 830.4, "x": 0.10, "y": 1.05, "z": 0.12},
      {"t": 830.5, "x": 0.05, "y": 1.00, "z": 0.02},
      {"t": 830.6, "x": 0.18, "y": 0.98, "z": 0.10},
      {"t": 830.7, "x": -0.05, "y": 1.00, "z": 0.05},
      {"t": 830.8, "x": 0.15, "y": 1.02, "z": 0.00},
      {"t": 830.9, "x": 0.05, "y": 1.00, "z": 0.08},
      {"t": 831.0, "x": 0.20, "y": 1.05, "z": -0.10},
      {"t": 831.1, "x": -0.08, "y": 1.00, "z": 0.10},
      {"t": 831.2, "x": 0.10, "y": 0.98, "z": 0.05},
      {"t": 831.3, "x": 0.05, "y": 1.02, "z": 0.12},
      {"t": 831.4, "x": 0.15, "y": 1.00, "z": 0.02},
      {"t": 831.5, "x": -0.10, "y": 1.05, "z": 0.08},
      {"t": 831.6, "x": 0.25, "y": 1.00, "z": -0.12},
      {"t": 831.7, "x": 0.05, "y": 0.97, "z": 0.15},
      {"t": 831.8, "x": 0.15, "y": 1.02, "z": 0.05},
      {"t": 831.9, "x": -0.05, "y": 1.00, "z": 0.10},
      {"t": 832.0, "x": 0.20, "y": 1.05, "z": 0.02},
      {"t": 832.1, "x": 0.05, "y": 1.00, "z": 0.08},
      {"t": 832.2, "x": -0.15, "y": 0.98, "z": -0.05},
      {"t": 832.3, "x": 0.10, "y": 1.02, "z": 0.10},
      {"t": 832.4, "x": 0.25, "y": 1.00, "z": 0.05},
      {"t": 832.5, "x": 0.00, "y": 1.05, "z": 0.12},
      {"t": 832.6, "x": 0.15, "y": 1.00, "z": 0.02},
      {"t": 832.7, "x": -0.10, "y": 0.97, "z": 0.08},
      {"t": 832.8, "x": 0.20, "y": 1.02, "z": -0.05},
      {"t": 832.9, "x": 0.05, "y": 1.00, "z": 0.10},
      {"t": 833.0, "x": 0.15, "y": 1.05, "z": 0.05},
      {"t": 833.1, "x": -0.05, "y": 1.00, "z": 0.00},
      {"t": 833.2, "x": 0.10, "y": 0.95, "z": 0.08},
      {"t": 833.27, "x": 0.05, "y": 1.02, "z": 0.02}
    ],
    "markLeft": [{"t": 811.06, "value": -0.15}, {"t": 826.7, "value": -0.15}],
    "markRight": [{"t": 811.06, "value": 0}, {"t": 826.7, "value": 0}],
    "markBack": [{"t": 811.06, "value": 0}, {"t": 826.7, "value": 0}]
  },
  "vconcat": [
    {
      "title": "Left Foot",
      "width": 539,
      "height": 103,
      "resolve": {"axis": {"x": "independent"}},
      "layer": [
        {
          "data": {"name": "left"},
          "transform": [{"fold": ["x", "y", "z"], "as": ["axis", "value"]}],
          "mark": {"type": "line", "strokeWidth": 1, "clip": true},
          "encoding": {
            "x": {"field": "t", "type": "quantitative", "scale": {"domain": [808.08, 833.27], "nice": false, "zero": false}, "axis": {"title": "Time, sec", "values": [810, 815, 820, 825, 830]}},
            "y": {"field": "value", "type": "quantitative", "scale": {"domain": [-5, 10], "nice": false, "zero": false}, "axis": {"title": null, "values": [-5, 0, 5, 10]}},
            "color": {"field": "axis", "type": "nominal", "scale": {"domain": ["x", "y", "z"], "range": ["#0072BD", "#77AC30", "#D95319"]}, "legend": {"title": null}}
          }
        },
        {
          "data": {"name": "markLeft"},
          "mark": {"type": "point", "shape": "circle", "filled": false, "stroke": "#000000", "strokeWidth": 1, "size": 70, "opacity": 1},
          "encoding": {
            "x": {"field": "t", "type": "quantitative", "scale": {"domain": [808.08, 833.27], "nice": false, "zero": false}, "axis": {"orient": "top", "labels": false, "title": null, "values": [810, 815, 820, 825, 830]}},
            "y": {"field": "value", "type": "quantitative"}
          }
        }
      ]
    },
    {
      "title": "Right Foot",
      "width": 539,
      "height": 103,
      "resolve": {"axis": {"x": "independent"}},
      "layer": [
        {
          "data": {"name": "right"},
          "transform": [{"fold": ["x", "y", "z"], "as": ["axis", "value"]}],
          "mark": {"type": "line", "strokeWidth": 1, "clip": true},
          "encoding": {
            "x": {"field": "t", "type": "quantitative", "scale": {"domain": [808.08, 833.27], "nice": false, "zero": false}, "axis": {"title": "Time, sec", "values": [810, 815, 820, 825, 830]}},
            "y": {"field": "value", "type": "quantitative", "scale": {"domain": [-10, 10], "nice": false, "zero": false}, "axis": {"title": null, "values": [-10, 0, 10]}},
            "color": {"field": "axis", "type": "nominal", "scale": {"domain": ["x", "y", "z"], "range": ["#0072BD", "#77AC30", "#D95319"]}, "legend": {"title": null}}
          }
        },
        {
          "data": {"name": "markRight"},
          "mark": {"type": "point", "shape": "circle", "filled": false, "stroke": "#000000", "strokeWidth": 1, "size": 70, "opacity": 1},
          "encoding": {
            "x": {"field": "t", "type": "quantitative", "scale": {"domain": [808.08, 833.27], "nice": false, "zero": false}, "axis": {"orient": "top", "labels": false, "title": null, "values": [810, 815, 820, 825, 830]}},
            "y": {"field": "value", "type": "quantitative"}
          }
        }
      ]
    },
    {
      "title": "Lower Back",
      "width": 539,
      "height": 102,
      "resolve": {"axis": {"x": "independent"}},
      "layer": [
        {
          "data": {"name": "back"},
          "transform": [{"fold": ["x", "y", "z"], "as": ["axis", "value"]}],
          "mark": {"type": "line", "strokeWidth": 1, "clip": true},
          "encoding": {
            "x": {"field": "t", "type": "quantitative", "scale": {"domain": [808.08, 833.27], "nice": false, "zero": false}, "axis": {"title": "Time, sec", "values": [810, 815, 820, 825, 830]}},
            "y": {"field": "value", "type": "quantitative", "scale": {"domain": [-0.42, 2], "nice": false, "zero": false}, "axis": {"title": null, "values": [0, 1, 2]}},
            "color": {"field": "axis", "type": "nominal", "scale": {"domain": ["x", "y", "z"], "range": ["#0072BD", "#77AC30", "#D95319"]}, "legend": {"title": null}}
          }
        },
        {
          "data": {"name": "markBack"},
          "mark": {"type": "point", "shape": "circle", "filled": false, "stroke": "#000000", "strokeWidth": 1, "size": 70, "opacity": 1},
          "encoding": {
            "x": {"field": "t", "type": "quantitative", "scale": {"domain": [808.08, 833.27], "nice": false, "zero": false}, "axis": {"orient": "top", "labels": false, "title": null, "values": [810, 815, 820, 825, 830]}},
            "y": {"field": "value", "type": "quantitative"}
          }
        }
      ]
    }
  ]
}
